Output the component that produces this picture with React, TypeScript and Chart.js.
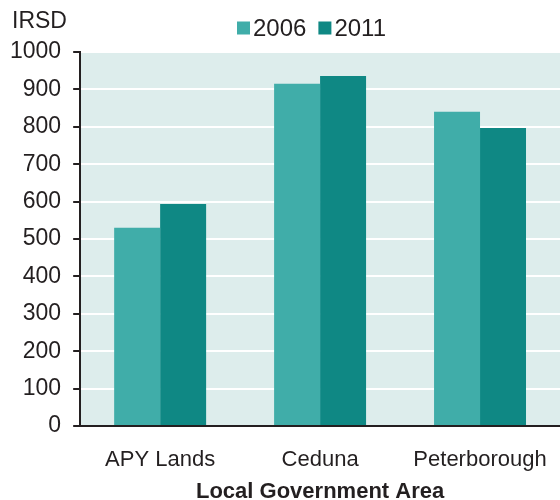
import React, { useEffect, useRef } from "react";
import { Chart, registerables } from "chart.js";

Chart.register(...registerables);

const categories = ["APY Lands", "Ceduna", "Peterborough"];
const series2006 = [530, 915, 840];
const series2011 = [594, 936, 797];
const seriesLabels = ["2006", "2011"];
const seriesColors = ["#40ADA9", "#0F8884"];

const FONT = "'Liberation Sans', Arial, sans-serif";
const TEXT = "#231F20";

const decorPlugin = {
  id: "decorPlugin",
  beforeDraw(chart: any) {
    const { ctx, chartArea } = chart;
    ctx.save();
    ctx.fillStyle = "#DDEDEC";
    ctx.fillRect(chartArea.left, chartArea.top, chartArea.right - chartArea.left, chartArea.bottom - chartArea.top);
    ctx.restore();
  },
  afterDraw(chart: any) {
    const { ctx } = chart;
    ctx.save();
    ctx.fillStyle = TEXT;
    ctx.font = `23px ${FONT}`;
    ctx.textBaseline = "middle";
    ctx.textAlign = "left";
    ctx.fillText("IRSD", 12, 22);

    // legend
    ctx.font = `24px ${FONT}`;
    let x = 237;
    const y = 28;
    chart.data.datasets.forEach((ds: any) => {
      ctx.fillStyle = ds.backgroundColor;
      ctx.fillRect(x, y - 6.5, 13, 13);
      x += 13 + 3;
      ctx.fillStyle = TEXT;
      ctx.fillText(ds.label, x, y + 1);
      x += ctx.measureText(ds.label).width + 12;
    });
    ctx.restore();
  },
};

export default function App() {
  const ref = useRef<HTMLCanvasElement>(null);
  useEffect(() => {
    const chart = new Chart(ref.current!, {
      type: "bar",
      data: {
        labels: categories,
        datasets: [
          { label: seriesLabels[0], data: series2006, backgroundColor: seriesColors[0] },
          { label: seriesLabels[1], data: series2011, backgroundColor: seriesColors[1] },
        ],
      },
      options: {
        animation: false,
        responsive: false,
        layout: { padding: { top: 52, left: -2, right: 0, bottom: 0 } },
        datasets: { bar: { categoryPercentage: 0.575, barPercentage: 1 } },
        plugins: {
          tooltip: { enabled: false },
          legend: { display: false },
        },
        scales: {
          x: {
            afterFit: (scale: any) => {
              scale.paddingLeft = 0;
              scale.paddingRight = 0;
            },
            grid: { display: false, drawTicks: false },
            border: { display: true, color: "#231F20", width: 2 },
            ticks: { color: TEXT, font: { family: FONT, size: 22 }, padding: 21, autoSkip: false, maxRotation: 0 },
            title: {
              display: true,
              text: "Local Government Area",
              color: TEXT,
              font: { family: FONT, size: 22, weight: "bold", lineHeight: 0.75 },
              padding: { top: -11, bottom: 0 },
            },
          },
          y: {
            min: 0,
            max: 1000,
            ticks: {
              stepSize: 100,
              color: TEXT,
              font: { family: FONT, size: 23 },
              padding: 12,
              callback: (v: any) => String(v),
            },
            grid: {
              color: (c: any) => (c.tick && c.tick.value === 0 ? "rgba(0,0,0,0)" : "#FFFFFF"),
              lineWidth: 2,
              tickColor: "#231F20",
              tickLength: 7,
              drawTicks: true,
            },
            border: { display: true, color: "#231F20", width: 2 },
          },
        },
      },
      plugins: [decorPlugin],
    });
    return () => chart.destroy();
  }, []);
  return (
    <div style={{ position: "fixed", left: 0, top: 0, width: 560, height: 500 }}>
      <canvas ref={ref} width={560} height={500} />
    </div>
  );
}
